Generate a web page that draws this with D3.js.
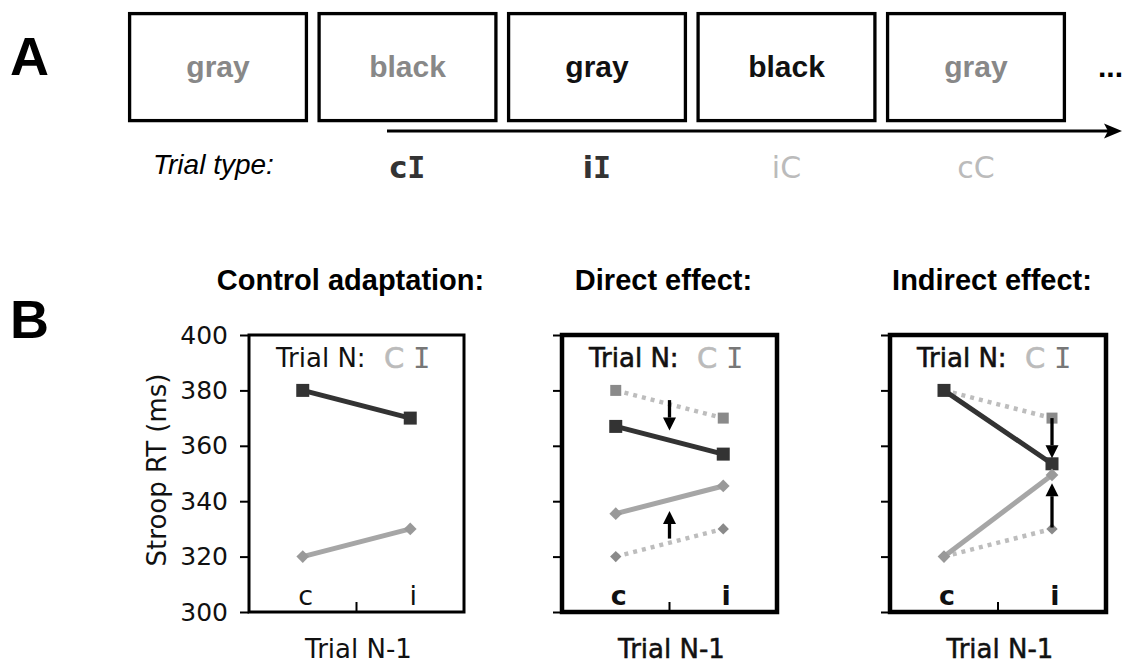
<!DOCTYPE html>
<html>
<head>
<meta charset="utf-8">
<script src="https://cdnjs.cloudflare.com/ajax/libs/d3/7.8.5/d3.min.js"></script>
<style>
  body { margin: 0; background: #fff; }
  svg { display: block; }
</style>
</head>
<body>
<script>
// ---- panel A data ----
const boxWords = ["gray", "black", "gray", "black", "gray"];
const boxInk = ["#888", "#888", "#111", "#111", "#888"];
const trialTypes = ["cI", "iI", "iC", "cC"];
const trialInk = ["#333", "#333", "#bbb", "#bbb"];

// ---- panel B data ----
const trialN1 = ["c", "i"];
const yTicks = [300, 320, 340, 360, 380, 400];
const titles = ["Control adaptation:", "Direct effect:", "Indirect effect:"];
const baseIncong = [380, 370];
const baseCong = [320, 330];
const directIncong = [367, 357];
const directCong = [335.5, 345.5];
const indirectIncong = [380, 353.5];
const indirectCong = [320, 349.5];
const directArrows = [[376.5, 365.5], [326.5, 336.5]];
const indirectArrows = [[370, 355.5], [330.5, 346.5]];

const W = 1125, H = 664;
const SANS = "'Liberation Sans', Arial, sans-serif";
const VERD = "'DejaVu Sans', Verdana, sans-serif";
const MONO = "'DejaVu Sans Mono', monospace";

const svg = d3.select("body").append("svg")
  .attr("width", W).attr("height", H);

//------- PANEL A -------
svg.append("text")
  .attr("x", 10).attr("y", 75)
  .attr("font-family", SANS).attr("font-weight", "bold").attr("font-size", 54)
  .text("A");

const bx = d3.scaleBand()
  .domain(d3.range(boxWords.length))
  .range([128, 1066])
  .paddingInner(0.05);

const boxes = svg.append("g").selectAll("g")
  .data(boxWords)
  .join("g");

boxes.append("rect")
  .attr("x", (d, i) => bx(i) + 1.6)
  .attr("y", 13.6)
  .attr("width", bx.bandwidth() - 3.2)
  .attr("height", 107)
  .attr("fill", "none")
  .attr("stroke", "#000")
  .attr("stroke-width", 3.3);

boxes.append("text")
  .attr("x", (d, i) => bx(i) + bx.bandwidth() / 2)
  .attr("y", 77)
  .attr("text-anchor", "middle")
  .attr("font-family", SANS).attr("font-weight", "bold").attr("font-size", 30)
  .attr("fill", (d, i) => boxInk[i])
  .text(d => d);

svg.append("text")
  .attr("x", 1098).attr("y", 77)
  .attr("font-family", SANS).attr("font-weight", "bold").attr("font-size", 30)
  .text("...");

// time arrow
svg.append("line")
  .attr("x1", 387).attr("x2", 1110)
  .attr("y1", 131).attr("y2", 131)
  .attr("stroke", "#000").attr("stroke-width", 3.2);
svg.append("path")
  .attr("d", "M1122,131 L1104,123.5 L1108,131 L1104,138.5 Z")
  .attr("fill", "#000");

svg.append("text")
  .attr("x", 153).attr("y", 174)
  .attr("font-family", SANS).attr("font-style", "italic").attr("font-size", 28)
  .text("Trial type:");

const tt = svg.append("g").selectAll("text")
  .data(trialTypes)
  .join("text")
  .attr("x", (d, i) => bx(i + 1) + bx.bandwidth() / 2)
  .attr("y", 178)
  .attr("text-anchor", "middle")
  .attr("font-size", 30)
  .attr("fill", (d, i) => trialInk[i]);

tt.each(function (d) {
  const t = d3.select(this);
  const bold = d[1] === "I";
  t.append("tspan")
    .attr("font-family", VERD)
    .attr("font-weight", bold ? "bold" : "normal")
    .text(d[0]);
  t.append("tspan")
    .attr("font-family", bold ? MONO : VERD)
    .attr("font-weight", bold ? "bold" : "normal")
    .text(d[1]);
});

//------- PANEL B -------
svg.append("text")
  .attr("x", 10).attr("y", 338)
  .attr("font-family", SANS).attr("font-weight", "bold").attr("font-size", 54)
  .text("B");

const panels = [
  { title: titles[0], left: 249, right: 464, frame: 3, bold: false,
    solidI: baseIncong, solidC: baseCong, dotted: false, arrows: [], arrowAt: null },
  { title: titles[1], left: 562, right: 777, frame: 4.5, bold: true,
    solidI: directIncong, solidC: directCong, dotted: true, arrows: directArrows, arrowAt: "mid" },
  { title: titles[2], left: 890, right: 1106, frame: 4.5, bold: true,
    solidI: indirectIncong, solidC: indirectCong, dotted: true, arrows: indirectArrows, arrowAt: "i" }
];

const y = d3.scaleLinear().domain([300, 400]).range([612, 335]);

const square = d3.symbol().type(d3.symbolSquare);

panels.forEach((p, k) => {
  const g = svg.append("g");
  const x = d3.scaleBand().domain(trialN1).range([p.left, p.right]);
  const cx = c => x(c) + x.bandwidth() / 2;
  const mid = (p.left + p.right) / 2;

  // title
  g.append("text")
    .attr("x", mid - 6).attr("y", 290)
    .attr("text-anchor", "middle")
    .attr("font-family", SANS).attr("font-weight", "bold").attr("font-size", 29)
    .text(p.title);

  // y axis ticks
  const yAxis = d3.axisLeft(y)
    .tickValues(yTicks)
    .tickSize(9)
    .tickPadding(12)
    .tickFormat(k === 0 ? d3.format("d") : () => "");
  const ga = g.append("g")
    .attr("transform", "translate(" + p.left + ",0)")
    .call(yAxis);
  ga.select(".domain").remove();
  ga.selectAll(".tick line").attr("stroke", "#000").attr("stroke-width", 2);
  ga.selectAll(".tick text")
    .attr("font-family", VERD).attr("font-size", 25).attr("fill", "#111");

  // frame
  g.append("rect")
    .attr("x", p.left).attr("y", y(400))
    .attr("width", p.right - p.left).attr("height", y(300) - y(400))
    .attr("fill", "none")
    .attr("stroke", "#000").attr("stroke-width", p.frame);

  // category divider tick
  g.append("line")
    .attr("x1", x("i")).attr("x2", x("i"))
    .attr("y1", y(300)).attr("y2", y(300) - 10)
    .attr("stroke", "#000").attr("stroke-width", 2);

  // category labels
  g.selectAll("text.cat")
    .data(trialN1)
    .join("text")
    .attr("class", "cat")
    .attr("x", d => cx(d) + 3)
    .attr("y", 605)
    .attr("text-anchor", "middle")
    .attr("font-family", VERD).attr("font-size", 27)
    .attr("font-weight", p.bold ? "bold" : "normal")
    .attr("fill", "#111")
    .text(d => d);

  // legend
  const leg = g.append("g");
  leg.append("text")
    .attr("x", p.left + 27).attr("y", 367)
    .attr("font-family", VERD).attr("font-size", 26).attr("fill", "#111")
    .attr("stroke", p.bold ? "#111" : "none").attr("stroke-width", 0.6)
    .text("Trial N:");
  leg.append("text")
    .attr("x", p.left + 135).attr("y", 368)
    .attr("font-family", VERD).attr("font-size", 29).attr("fill", "#bbb")
    .attr("stroke", "#bbb").attr("stroke-width", 0.6)
    .text("C");
  leg.append("text")
    .attr("x", p.left + 164).attr("y", 368)
    .attr("font-family", MONO).attr("font-size", 29).attr("fill", "#777")
    .text("I");

  // x label
  g.append("text")
    .attr("x", mid + 2).attr("y", 658)
    .attr("text-anchor", "middle")
    .attr("font-family", VERD).attr("font-size", 26).attr("fill", "#111")
    .attr("stroke", p.bold ? "#111" : "none").attr("stroke-width", 0.5)
    .text("Trial N-1");

  const line = d3.line()
    .x((d, j) => cx(trialN1[j]))
    .y(d => y(d));

  // dotted baseline series
  if (p.dotted) {
    [baseIncong, baseCong].forEach((s, si) => {
      g.append("path")
        .attr("d", line(s))
        .attr("fill", "none")
        .attr("stroke", "#bdbdbd").attr("stroke-width", 4.5)
        .attr("stroke-dasharray", "4,5");
      g.selectAll(null)
        .data(s)
        .join("path")
        .attr("transform", (d, j) => "translate(" + cx(trialN1[j]) + "," + y(d) + ")" + (si ? " rotate(45)" : ""))
        .attr("d", square.size(si ? 64 : 121)())
        .attr("fill", "#8a8a8a");
    });
  }

  // solid incongruent (trial N = I)
  g.append("path")
    .attr("d", line(p.solidI))
    .attr("fill", "none")
    .attr("stroke", "#333").attr("stroke-width", 5);
  g.selectAll(null)
    .data(p.solidI)
    .join("path")
    .attr("transform", (d, j) => "translate(" + cx(trialN1[j]) + "," + y(d) + ")")
    .attr("d", square.size(169)())
    .attr("fill", "#333");

  // solid congruent (trial N = C)
  g.append("path")
    .attr("d", line(p.solidC))
    .attr("fill", "none")
    .attr("stroke", "#a6a6a6").attr("stroke-width", 5);
  g.selectAll(null)
    .data(p.solidC)
    .join("path")
    .attr("transform", (d, j) => "translate(" + cx(trialN1[j]) + "," + y(d) + ") rotate(45)")
    .attr("d", square.size(81)())
    .attr("fill", "#999");

  // arrows
  const ax = p.arrowAt === "mid" ? x("i") : cx("i");
  p.arrows.forEach(a => {
    const y0 = y(a[0]), y1 = y(a[1]);
    const dir = y1 > y0 ? 1 : -1;
    const head = 13;
    g.append("line")
      .attr("x1", ax).attr("x2", ax)
      .attr("y1", y0).attr("y2", y1 - dir * head)
      .attr("stroke", "#000").attr("stroke-width", 3.3);
    g.append("path")
      .attr("d", "M" + ax + "," + y1 +
        " L" + (ax - 6.5) + "," + (y1 - dir * head) +
        " L" + (ax + 6.5) + "," + (y1 - dir * head) + " Z")
      .attr("fill", "#000");
  });
});

// y axis label
svg.append("text")
  .attr("transform", "translate(166,470) rotate(-90)")
  .attr("text-anchor", "middle")
  .attr("font-family", VERD).attr("font-size", 26).attr("fill", "#111")
  .text("Stroop RT (ms)");
</script>
</body>
</html>
